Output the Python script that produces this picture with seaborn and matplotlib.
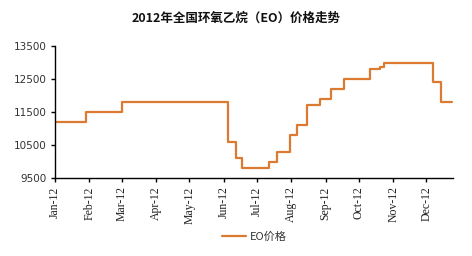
import matplotlib
matplotlib.use("Agg")
import matplotlib.pyplot as plt
import matplotlib.dates as mdates
import seaborn as sns
import pandas as pd

dates = ["2012-01-01", "2012-01-29", "2012-03-01", "2012-06-05", "2012-06-12",
         "2012-06-18", "2012-07-12", "2012-07-19", "2012-07-31", "2012-08-06",
         "2012-08-15", "2012-08-27", "2012-09-06", "2012-09-18", "2012-10-11",
         "2012-10-20", "2012-10-24", "2012-12-07", "2012-12-14", "2012-12-24"]
prices = [11200, 11500, 11800, 10600, 10100,
          9800, 10000, 10300, 10800, 11100,
          11700, 11900, 12200, 12500, 12800,
          12850, 13000, 12400, 11800, 11800]
yticks = [9500, 10500, 11500, 12500, 13500]
title = "2012年全国环氧乙烷（EO）价格走势"
series_name = "EO价格"

df = pd.DataFrame({"date": pd.to_datetime(dates), "price": prices, "s": series_name})

sns.set_style("white")
plt.rcParams['font.family'] = ['Noto Sans CJK SC', 'DejaVu Sans']

fig = plt.figure(figsize=(4.72, 2.56), dpi=100)
ax = fig.add_axes([55/472, 1-178/256, (453-55)/472, (178-46)/256])

sns.lineplot(data=df, x="date", y="price", hue="s", palette=["#DC7A32"],
             drawstyle="steps-post", linewidth=1.6, ax=ax, legend=True)

ax.set_xlim(pd.Timestamp("2012-01-01"), pd.Timestamp("2012-12-25"))
ax.set_ylim(9500, 13500)
ax.set_yticks(yticks)
ax.set_yticklabels([str(v) for v in yticks], fontsize=7.5, color="#333333",
                   family=["DejaVu Sans"])
ax.xaxis.set_major_locator(mdates.MonthLocator())
ax.xaxis.set_major_formatter(mdates.DateFormatter("%b-%y"))
for lbl in ax.get_xticklabels():
    lbl.set_rotation(90)
    lbl.set_fontsize(8.5)
    lbl.set_family(["Liberation Serif"])
    lbl.set_color("#222222")
ax.set_xlabel("")
ax.set_ylabel("")
for s in ["top", "right"]:
    ax.spines[s].set_visible(False)
for s in ["left", "bottom"]:
    ax.spines[s].set_color("black")
    ax.spines[s].set_linewidth(1.0)
ax.tick_params(axis="both", which="major", direction="out", length=3, width=1,
               color="black", left=True, bottom=True, pad=3)

fig.text(236/472, 1-18/256, title, ha="center", va="center", fontsize=9,
         fontweight="bold", color="#111111")

leg = ax.legend(loc="upper center", bbox_to_anchor=(0.5, -0.33), frameon=False,
                fontsize=8, handlelength=2.2, handletextpad=0.3)
for t in leg.get_texts():
    t.set_color("#333333")

fig.savefig("out.png", dpi=100, facecolor="white")
